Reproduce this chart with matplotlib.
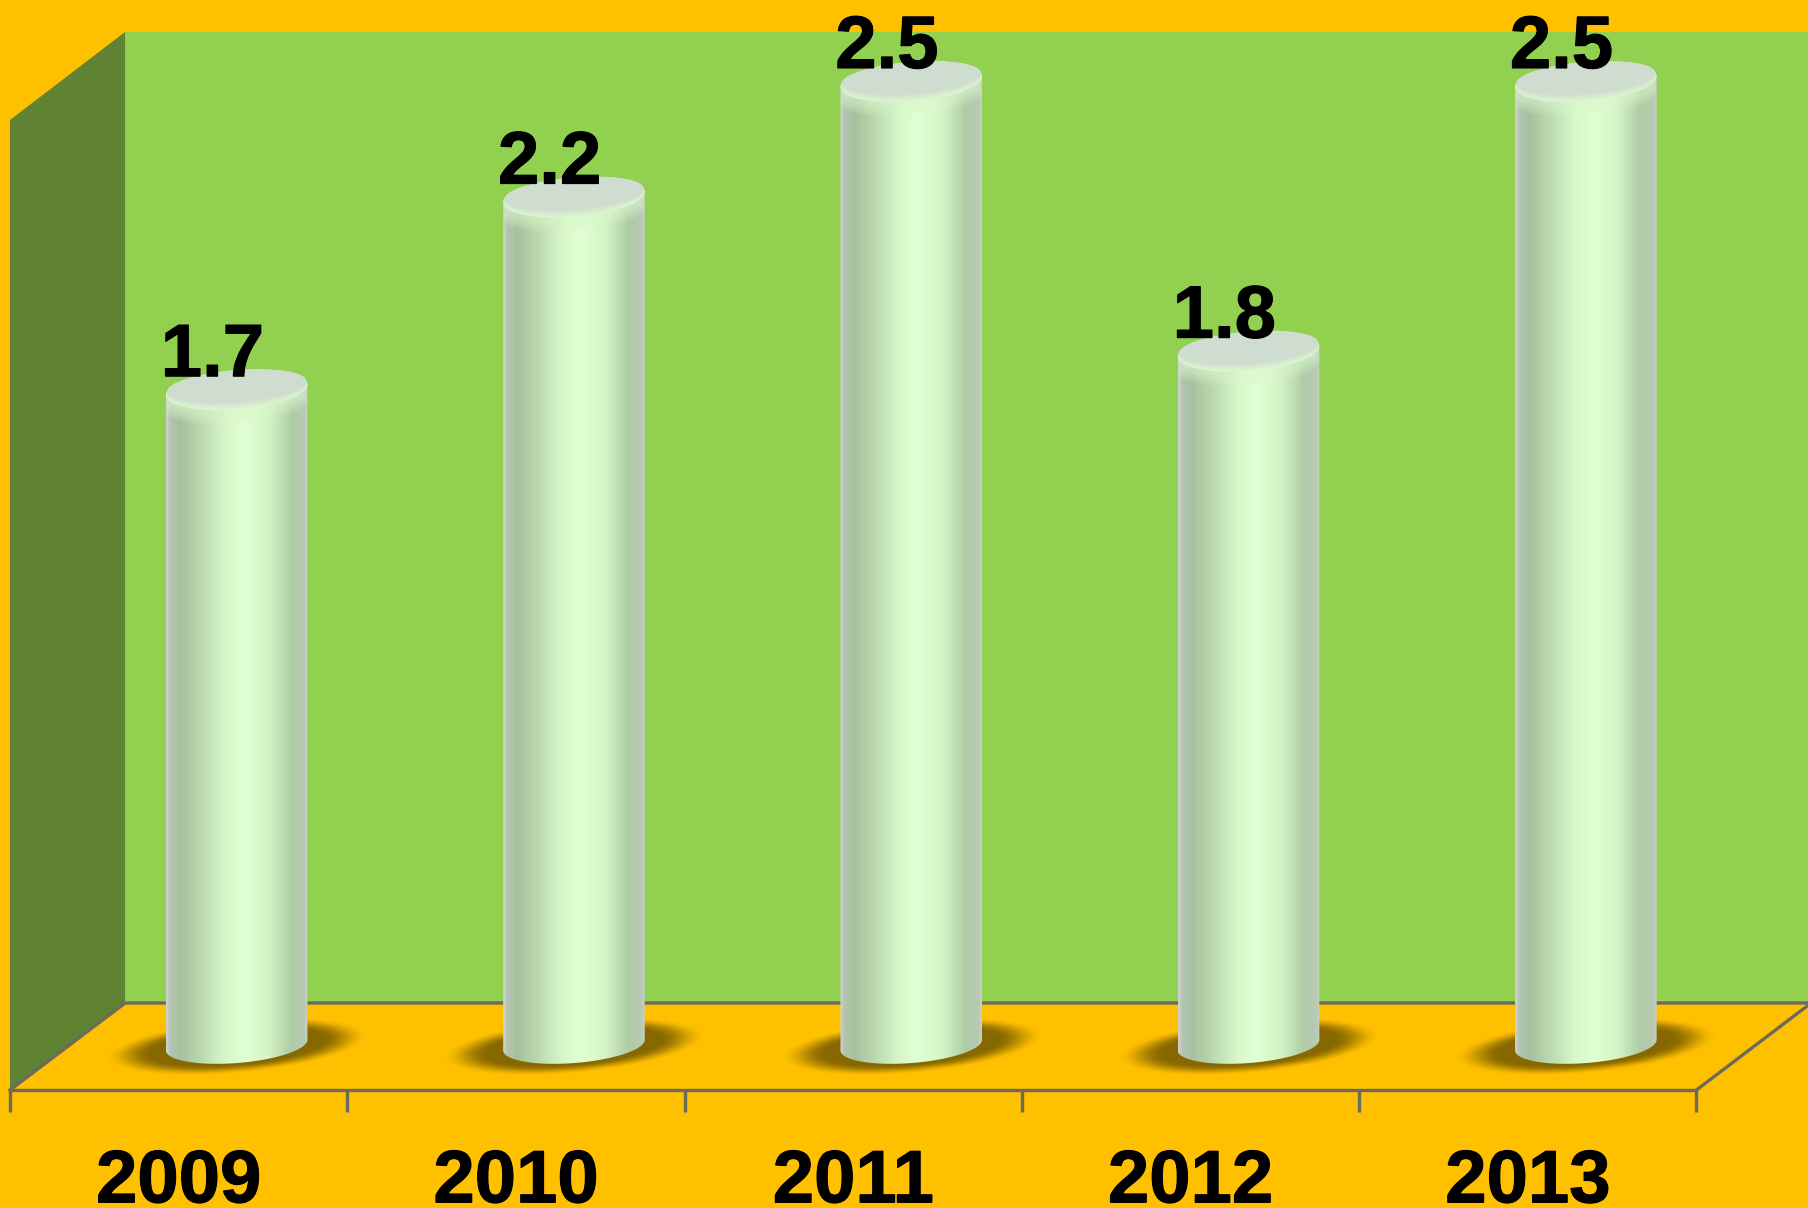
'''
    Cylinder chart with a fake 3D wall and floor, per year.
'''

import numpy as np
import matplotlib
matplotlib.use('Agg')
import matplotlib.pyplot as plt
import matplotlib.patheffects as pe
from matplotlib.colors import LinearSegmentedColormap, to_rgb
from matplotlib.patches import Polygon, PathPatch
from matplotlib.path import Path

years = ['2009', '2010', '2011', '2012', '2013']
values = [1.7, 2.2, 2.5, 1.8, 2.5]

W, H = 1808, 1208
AX_L, AX_R = 10, 1696       # image columns of the first and last tick
PX_X = (AX_R - AX_L) / 5.0  # pixels per category
PX_Y = 385.2                # pixels per unit of value
ZERO_PX = 1045              # image row of value 0
BAR_OFFSET = 0.672          # cylinders stand back from the tick centre

ORANGE = '#FFC000'
GREEN = '#92D050'
SIDE = '#5F8233'
LINE = '#6B6B5B'
TILT = np.radians(4.6)
HEAVY = [pe.withStroke(linewidth=0.8, foreground='black')]

plt.rcParams['font.family'] = ['Liberation Sans', 'DejaVu Sans']

def fig_xy(x, y):
    return x / W, 1 - y / H

def ellipse(cx, cy, a, b, t):
    # a, b in pixels, cx, cy in data units
    u, w = a * np.cos(t), b * np.sin(t)
    dx = u * np.cos(TILT) - w * np.sin(TILT)
    dy = u * np.sin(TILT) + w * np.cos(TILT)
    return cx + dx / PX_X, cy + dy / PX_Y

def draw_backdrop(fig):
    shapes = [
        ([(125, 32), (W, 32), (W, 1003), (125, 1003)], GREEN),
        ([(10, 120), (125, 32), (125, 1003), (10, 1090)], SIDE),
    ]
    for pts, color in shapes:
        fig.add_artist(Polygon([fig_xy(*p) for p in pts], closed=True, fc=color, ec='none',
                               transform=fig.transFigure, zorder=-5))
    for pts in ([(10, 1090), (125, 1003), (W, 1003)], [(AX_R, 1090), (W, 1005)]):
        xy = np.array([fig_xy(*p) for p in pts])
        fig.add_artist(plt.Line2D(xy[:, 0], xy[:, 1], color=LINE, lw=2.4,
                                  transform=fig.transFigure, zorder=-4))

def draw_shadow(ax, cx):
    # soft dark blob on the floor behind the cylinder
    xs = np.linspace(cx - 0.5, cx + 0.5, 340)
    ys = np.linspace(-0.12, 0.12, 100)
    gx, gy = np.meshgrid((xs - cx) * PX_X, ys * PX_Y + 2)
    tilt = np.radians(5)
    u = gx * np.cos(tilt) + gy * np.sin(tilt)
    w = -gx * np.sin(tilt) + gy * np.cos(tilt)
    r = np.sqrt((u / 132.0) ** 2 + (w / 27.0) ** 2)
    alpha = np.clip((1.0 - r) / 0.35, 0, 1)
    alpha = alpha * alpha * (3 - 2 * alpha)
    rgba = np.zeros(alpha.shape + (4,))
    rgba[..., 0], rgba[..., 1], rgba[..., 2] = 0.53, 0.41, 0.0
    rgba[..., 3] = alpha
    ax.imshow(rgba, extent=(xs[0], xs[-1], ys[0], ys[-1]), origin='lower',
              aspect='auto', zorder=2, clip_on=False, interpolation='bilinear')

body_cmap = LinearSegmentedColormap.from_list('cyl', [
    (0.00, '#D0D4D0'), (0.03, '#B4C4B0'), (0.10, '#A6C09E'), (0.25, '#BCDAB0'),
    (0.42, '#D8F8CA'), (0.55, '#E0FFD2'), (0.72, '#D4F4C6'), (0.88, '#AECCA4'),
    (0.97, '#B8CAB4'), (1.00, '#CCD4CC')])

def draw_cylinder(ax, cx, v):
    a, b = 71.0, 18.0
    ts = np.linspace(np.pi, 2 * np.pi, 60)
    bx, by = ellipse(cx, 0.0, a, b, ts)
    tx, ty = ellipse(cx, v, a, b, ts[::-1])
    verts = np.column_stack([np.r_[bx, tx], np.r_[by, ty]])
    clip = PathPatch(Path(np.vstack([verts, verts[:1]]), closed=True), fc='none', ec='none',
                     transform=ax.transData)
    ax.add_patch(clip)
    grad = np.linspace(0, 1, 256).reshape(1, -1)
    im = ax.imshow(grad, cmap=body_cmap, extent=(cx - a / PX_X, cx + a / PX_X, -0.1, v + 0.1),
                   aspect='auto', zorder=3, interpolation='bilinear')
    im.set_clip_path(clip)

    t = np.linspace(0, 2 * np.pi, 120)
    # glow on the body just under the cap
    for k in range(1, 9):
        x, y = ellipse(cx, v - 2 * k / PX_Y, a, b, t)
        glow = ax.fill(x, y, color='#DCF8CE', alpha=0.12, zorder=3.5, lw=0)[0]
        glow.set_clip_path(clip)

    # cap, stepped from the light rim in to the grey top
    rim, top = np.array(to_rgb('#DCF6CE')), np.array(to_rgb('#CFDDD0'))
    steps = 8
    for k in range(steps):
        f = k / (steps - 1.0)
        x, y = ellipse(cx, v + 4 * f / PX_Y, a - 1.5 * f, b + 1 - 3 * f, t)
        ax.fill(x, y, color=tuple(rim + (top - rim) * f), zorder=4 + 0.01 * k, clip_on=False, lw=0)

def show_figure():
    fig = plt.figure(figsize=((W + 0.5) / 100, H / 100), dpi=100, facecolor=ORANGE)
    draw_backdrop(fig)
    ax = fig.add_axes([AX_L / W, 1 - 1090 / H, (AX_R - AX_L) / W, (1090 - 32) / H])
    ax.patch.set_visible(False)

    positions = np.arange(len(years))
    for i, v in zip(positions, values):
        draw_shadow(ax, i + BAR_OFFSET)
        draw_cylinder(ax, i + BAR_OFFSET, v)
        ax.text(i + 0.6, v + 14 / PX_Y, '{}'.format(v), ha='center', va='baseline',
                fontsize=53.5, fontweight='bold', color='black', zorder=6, path_effects=HEAVY)

    ax.set_xlim(0, len(years))
    ax.set_ylim((ZERO_PX - 1090) / PX_Y, (ZERO_PX - 32) / PX_Y)
    ax.set_xticks(np.arange(len(years) + 1))
    ax.set_xticklabels([])
    ax.set_xticks(positions + 0.5, minor=True)
    labels = ax.set_xticklabels(years, minor=True, fontsize=53.5, fontweight='bold')
    for label in labels:
        label.set_path_effects(HEAVY)
    ax.tick_params(axis='x', which='major', length=16, width=2.4, color=LINE)
    ax.tick_params(axis='x', which='minor', length=0, pad=42)
    ax.yaxis.set_visible(False)
    for side in ('top', 'left', 'right'):
        ax.spines[side].set_visible(False)
    ax.spines['bottom'].set_color(LINE)
    ax.spines['bottom'].set_linewidth(2.4)
    fig.savefig('out.png', dpi=100, facecolor=ORANGE)

if __name__ == '__main__':
    show_figure()
